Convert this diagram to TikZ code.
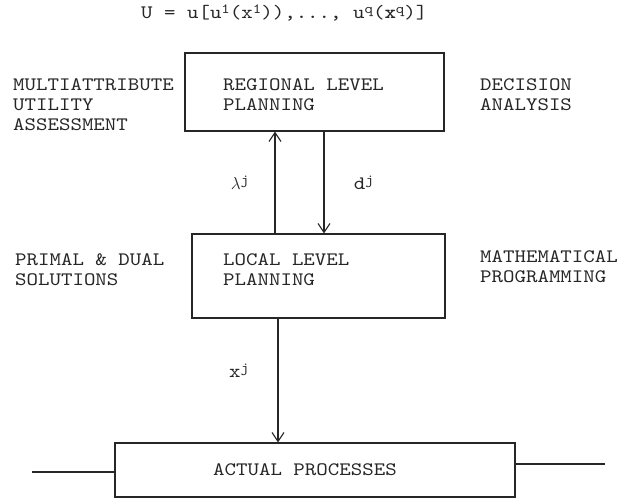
\documentclass[tikz,border=0pt]{standalone}
\usepackage{fontspec}
\newfontfamily\typefont{lmmono10-regular}[Extension=.otf, BoldFont=lmmonolt10-bold, FakeStretch=1.15]
\usetikzlibrary{arrows.meta,positioning}
\newcommand{\upidx}[1]{\raisebox{0.6ex}{\fontsize{14pt}{14pt}\selectfont #1}}

\begin{document}
\begin{tikzpicture}[x=1pt, y=-1pt,
    font=\typefont\fontsize{19pt}{20pt}\selectfont,
    block/.style={rectangle, draw=black!85, line width=1.1pt, inner sep=0pt},
    tag/.style={anchor=west, align=left, inner sep=0pt, text=black!85},
    arrow/.style={-{Straight Barb[length=9pt,width=12pt]}, line width=1.1pt, black!85},
    wire/.style={line width=1.1pt, black!85}
]
\useasboundingbox (0,0) rectangle (625,501);

% formula on top
\node[tag] (util) at (141,13)
    {U = u[u\upidx{1}(x\upidx{1})),..., u\upidx{q}(\textbf{x}\upidx{q})]};

% boxes
\node[block, minimum width=259pt, minimum height=78pt] (reg) at (314.5,92) {};
\node[block, minimum width=253pt, minimum height=84pt] (loc) at (318.5,276) {};
\node[block, minimum width=400pt, minimum height=54pt] (act) at (315,470) {};

\node[tag] (regtxt) at (223,94.5) {REGIONAL LEVEL\\PLANNING};
\node[tag] (loctxt) at (223,269.5) {LOCAL LEVEL\\PLANNING};
\node[tag] (acttxt) at (213,470) {ACTUAL PROCESSES};

% side texts
\node[tag] (mau) at (13,105) {MULTIATTRIBUTE\\UTILITY\\ASSESSMENT};
\node[tag] (da) at (480,95) {DECISION\\ANALYSIS};
\node[tag] (pd) at (15,269.5) {PRIMAL \& DUAL\\SOLUTIONS};
\node[tag] (mp) at (480,267) {MATHEMATICAL\\PROGRAMMING};

% connectors
\coordinate (lamx) at (275,0);
\coordinate (dx) at (324,0);
\coordinate (xx) at (278,0);
\draw[arrow] (loc.north -| lamx) -- node[left=22pt, text=black!85] (lam) {$\lambda$\upidx{j}} (reg.south -| lamx);
\draw[arrow] (reg.south -| dx) -- node[right=26pt, text=black!85] (dj) {d\upidx{j}} (loc.north -| dx);
\draw[arrow] (loc.south -| xx) -- node[pos=0.42, left=25pt, text=black!85] (xj) {x\upidx{j}} (act.north -| xx);

\coordinate (in) at (32,472);
\coordinate (out) at (605,464);
\draw[wire] (in) -- (act.west |- in);
\draw[wire] (act.east |- out) -- (out);
\end{tikzpicture}
\end{document}
